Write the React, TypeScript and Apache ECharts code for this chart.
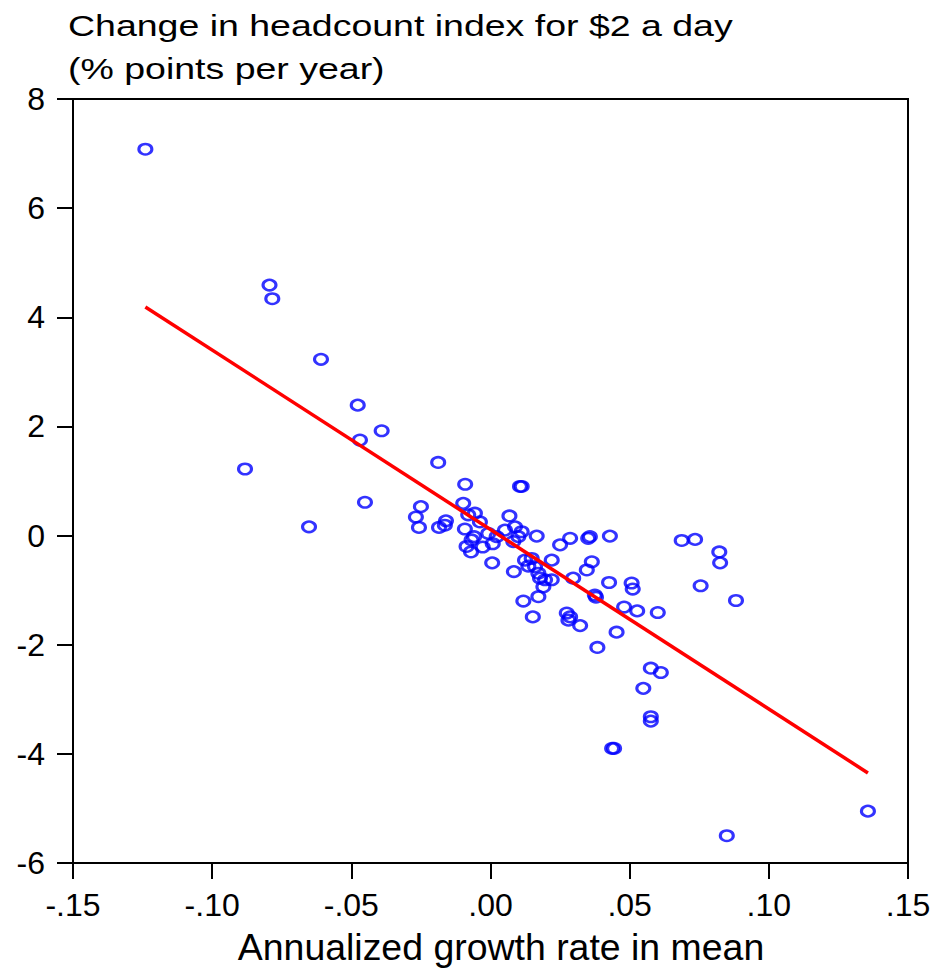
import React, { useEffect, useRef } from 'react';
import * as echarts from 'echarts';

// Annualized growth rate in mean (x) and change in $2-a-day headcount index (y)
const growthRate = [
  -0.1240, -0.0794, -0.0784, -0.0609, -0.0477, -0.0391, -0.0469, -0.0882, -0.0451, -0.0652,
  -0.0188, -0.0091, 0.0106, 0.0112, -0.0250, -0.0098, -0.0268, -0.0257, -0.0160, -0.0164,
  -0.0185, -0.0056, -0.0080, -0.0038, -0.0092, -0.0059, -0.0068, -0.0086, -0.0070, -0.0028,
  0.0008, 0.0022, -0.0008, 0.0052, 0.0068, 0.0088, 0.0112, 0.0100, 0.0082, 0.0166,
  0.0006, 0.0084, 0.0124, 0.0148, 0.0136, 0.0160, 0.0172, 0.0178, 0.0196, 0.0220,
  0.0190, 0.0172, 0.0118, 0.0152, 0.0220, 0.0250, 0.0286, 0.0297, 0.0346, 0.0364,
  0.0351, 0.0357, 0.0274, 0.0286, 0.0280, 0.0322, 0.0375, 0.0379, 0.0429, 0.0687,
  0.0735, 0.0822, 0.0825, 0.0426, 0.0507, 0.0511, 0.0755, 0.0882, 0.0480, 0.0527,
  0.0601, 0.0453, 0.0384, 0.0576, 0.0612, 0.0549, 0.0576, 0.0576, 0.0437, 0.0444,
  0.0849, 0.1356,
];
const headcountChange = [
  7.08, 4.59, 4.34, 3.23, 2.39, 1.92, 1.75, 1.22, 0.61, 0.16,
  1.34, 0.94, 0.90, 0.90, 0.53, 0.59, 0.34, 0.15, 0.27, 0.19,
  0.15, 0.41, 0.38, 0.25, 0.12, -0.02, -0.08, -0.20, -0.30, -0.21,
  -0.15, -0.02, 0.04, 0.10, 0.36, 0.16, 0.07, -0.02, -0.11, -0.01,
  -0.50, -0.66, -0.45, -0.42, -0.56, -0.57, -0.69, -0.78, -0.81, -0.81,
  -0.94, -1.12, -1.20, -1.49, -0.45, -0.17, -0.05, -0.78, -0.63, -0.48,
  -0.05, -0.02, -1.42, -1.49, -1.55, -1.65, -1.09, -1.13, -0.01, -0.09,
  -0.07, -0.30, -0.50, -0.86, -0.87, -0.98, -0.92, -1.19, -1.31, -1.38,
  -1.41, -1.77, -2.05, -2.43, -2.51, -2.80, -3.32, -3.40, -3.90, -3.90,
  -5.50, -5.05,
];

// Fitted regression line endpoints
const fitGrowth = [-0.1240, 0.1356];
const fitChange = [4.19, -4.35];

const titleLines = ['Change in headcount index for $2 a day', '(% points per year)'];
const xAxisTitle = 'Annualized growth rate in mean';

const FONT = '"Liberation Sans", Arial, Helvetica, sans-serif';

function fmtX(v: number): string {
  const s = Math.abs(v).toFixed(2).replace(/^0/, '');
  return (v < -1e-9 ? '-' : '') + s;
}

export default function App() {
  const ref = useRef<HTMLDivElement>(null);
  useEffect(() => {
    if (!ref.current) return;
    const chart = echarts.init(ref.current, null, { renderer: 'svg' });
    const points = growthRate.map((x, i) => [x, headcountChange[i]]);
    const fit = fitGrowth.map((x, i) => [x, fitChange[i]]);
    chart.setOption({
      animation: false,
      backgroundColor: '#ffffff',
      grid: {
        left: 73,
        top: 99,
        width: 835,
        height: 764,
        show: true,
        borderColor: '#000',
        borderWidth: 2,
        backgroundColor: 'transparent',
        containLabel: false,
        outerBoundsMode: 'none',
      },
      xAxis: {
        type: 'value',
        min: -0.15,
        max: 0.15,
        interval: 0.05,
        axisLine: { show: true, onZero: false, lineStyle: { color: '#000', width: 2 } },
        axisTick: { show: true, inside: false, length: 16, lineStyle: { color: '#000', width: 2 } },
        axisLabel: { margin: 26, fontSize: 32, color: '#000', fontFamily: FONT, formatter: fmtX },
        splitLine: { show: false },
      },
      yAxis: {
        type: 'value',
        min: -6,
        max: 8,
        interval: 2,
        axisLine: { show: true, onZero: false, lineStyle: { color: '#000', width: 2 } },
        axisTick: { show: true, inside: false, length: 16, lineStyle: { color: '#000', width: 2 } },
        axisLabel: { margin: 28, fontSize: 32, color: '#000', fontFamily: FONT },
        splitLine: { show: false },
      },
      graphic: [
        {
          type: 'text',
          x: 68,
          y: 4,
          scaleX: 1.25,
          style: {
            text: titleLines.join('\n'),
            font: `30px ${FONT}`,
            fill: '#000',
            lineHeight: 43,
            textAlign: 'left',
            textVerticalAlign: 'top',
          },
        },
        {
          type: 'text',
          x: 501,
          y: 948,
          scaleX: 1.04,
          style: {
            text: xAxisTitle,
            font: `36px ${FONT}`,
            fill: '#000',
            textAlign: 'center',
            textVerticalAlign: 'middle',
          },
        },
      ],
      series: [
        {
          type: 'scatter',
          data: points,
          symbol: 'circle',
          symbolSize: [13, 10.5],
          itemStyle: { color: 'rgba(0,0,0,0)', borderColor: '#0000ff', borderWidth: 2.8 },
          silent: true,
          z: 2,
        },
        {
          type: 'line',
          data: fit,
          symbol: 'none',
          lineStyle: { color: '#ff0000', width: 3.5 },
          silent: true,
          z: 3,
        },
      ],
    });
    return () => chart.dispose();
  }, []);
  return (
    <div
      ref={ref}
      style={{ position: 'absolute', left: 0, top: 0, width: 938, height: 972 }}
    />
  );
}
